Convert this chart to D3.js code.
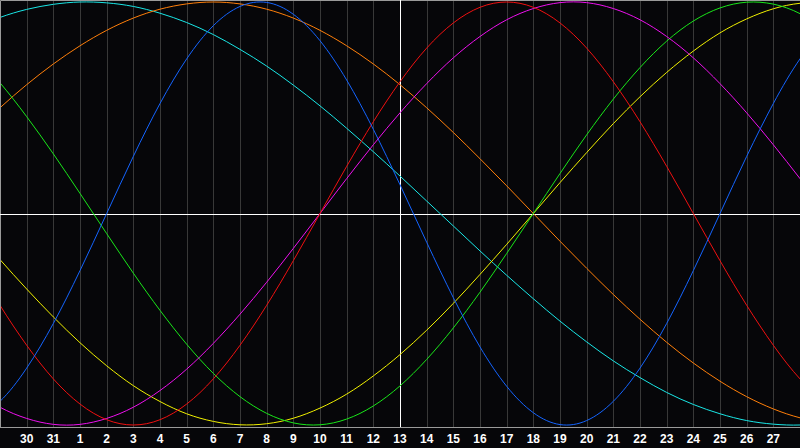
<!DOCTYPE html>
<html>
<head>
  <title>Biorhythm</title>
  <style>
    body {
      background-color: #000;
      margin: 0;
      padding: 0;
      overflow: hidden;
    }
    svg text {
      font-family: "Liberation Sans", Arial, sans-serif;
      font-weight: bold;
      font-size: 12px;
      fill: #fff;
    }
  </style>
</head>
<body>
  <div id="chart-container"></div>

  <script src="https://d3js.org/d3.v7.min.js"></script>
  <script>
    // day index -1 .. 31 (index 0 = left edge, 30 = right edge)
    const days = d3.range(-1, 32);

    // labels under the grid lines, index 1 .. 29
    const tickLabels = ['30', '31', '1', '2', '3', '4', '5', '6', '7', '8', '9', '10', '11', '12',
      '13', '14', '15', '16', '17', '18', '19', '20', '21', '22', '23', '24', '25', '26', '27'];

    // values, one per day (-1 .. 31)
    const physical = [-0.979, -0.888, -0.731, -0.520, -0.270, 0, 0.270, 0.520, 0.731, 0.888, 0.979, 0.998, 0.942, 0.817, 0.631, 0.398, 0.136,
      -0.136, -0.398, -0.631, -0.817, -0.942, -0.998, -0.979, -0.888, -0.731, -0.520, -0.270, 0, 0.270, 0.520, 0.731, 0.888];
    const emotional = [-0.223, -0.434, -0.623, -0.782, -0.901, -0.975, -1, -0.975, -0.901, -0.782, -0.623, -0.434, -0.223, 0, 0.223, 0.434, 0.623,
      0.782, 0.901, 0.975, 1, 0.975, 0.901, 0.782, 0.623, 0.434, 0.223, 0, -0.223, -0.434, -0.623, -0.782, -0.901];
    const intellectual = [0.756, 0.618, 0.458, 0.282, 0.095, -0.095, -0.282, -0.458, -0.618, -0.756, -0.866, -0.945, -0.990, -0.999, -0.972, -0.910, -0.815,
      -0.690, -0.541, -0.372, -0.189, 0, 0.189, 0.372, 0.541, 0.690, 0.815, 0.910, 0.972, 0.999, 0.990, 0.945, 0.866];
    const intuitive = [-0.837, -0.916, -0.969, -0.997, -0.997, -0.969, -0.916, -0.837, -0.736, -0.614, -0.476, -0.325, -0.165, 0, 0.165, 0.325, 0.476,
      0.614, 0.736, 0.837, 0.916, 0.969, 0.997, 0.997, 0.969, 0.916, 0.837, 0.736, 0.614, 0.476, 0.325, 0.165, 0];
    const aesthetic = [-0.073, -0.218, -0.357, -0.489, -0.611, -0.720, -0.814, -0.889, -0.947, -0.983, -0.999, -0.994, -0.968, -0.920, -0.854, -0.768, -0.667,
      -0.552, -0.425, -0.288, -0.146, 0, 0.146, 0.288, 0.425, 0.552, 0.667, 0.768, 0.854, 0.920, 0.968, 0.994, 0.999];
    const awareness = [0.383, 0.5, 0.609, 0.707, 0.793, 0.866, 0.924, 0.966, 0.991, 1, 0.991, 0.966, 0.924, 0.866, 0.793, 0.707, 0.609,
      0.5, 0.383, 0.259, 0.131, 0, -0.131, -0.259, -0.383, -0.5, -0.609, -0.707, -0.793, -0.866, -0.924, -0.966, -0.991];
    const spiritual = [0.876, 0.927, 0.965, 0.989, 1.000, 0.996, 0.979, 0.947, 0.903, 0.846, 0.776, 0.697, 0.607, 0.509, 0.403, 0.292, 0.177,
      0.059, -0.059, -0.177, -0.292, -0.403, -0.509, -0.607, -0.697, -0.776, -0.846, -0.903, -0.947, -0.979, -0.996, -1.000, -0.989];

    const series = [
      { name: 'spiritual', values: spiritual, color: '#19e6e6' },
      { name: 'awareness', values: awareness, color: '#ff7f0a' },
      { name: 'aesthetic', values: aesthetic, color: '#f0f000' },
      { name: 'intellectual', values: intellectual, color: '#19e619' },
      { name: 'intuitive', values: intuitive, color: '#ee10ee' },
      { name: 'emotional', values: emotional, color: '#f01010' },
      { name: 'physical', values: physical, color: '#1464ff' }
    ];

    const width = 800, height = 448;
    const plotBottom = 427;

    const svg = d3.select('#chart-container').append('svg')
      .attr('width', width)
      .attr('height', height)
      .style('display', 'block')
      .style('background', '#060609');

    const x = d3.scaleLinear().domain([0, 30]).range([0, 800]);
    const y = d3.scaleLinear().domain([-1, 1]).range([425, 2]);

    const crisp = v => Math.round(v) + 0.5;

    // vertical grid
    svg.selectAll('.grid')
      .data(d3.range(1, 30))
      .enter()
      .append('line')
      .attr('class', 'grid')
      .attr('x1', d => crisp(x(d)))
      .attr('x2', d => crisp(x(d)))
      .attr('y1', 0)
      .attr('y2', plotBottom)
      .style('stroke', '#383838')
      .style('stroke-width', 1);

    // frame: top, left, bottom
    svg.append('path')
      .attr('d', `M0.5,${plotBottom + 0.5}V0.5H800M0,${plotBottom + 0.5}H800`)
      .style('fill', 'none')
      .style('stroke', '#9a9a9a');

    // centre cross
    svg.append('line')
      .attr('x1', crisp(x(15))).attr('x2', crisp(x(15)))
      .attr('y1', 0).attr('y2', plotBottom)
      .style('stroke', '#fff');
    svg.append('line')
      .attr('x1', 0).attr('x2', 800)
      .attr('y1', crisp(y(0))).attr('y2', crisp(y(0)))
      .style('stroke', '#fff');

    svg.append('clipPath').attr('id', 'plot-clip')
      .append('rect').attr('x', 1).attr('y', 1).attr('width', 799).attr('height', plotBottom - 1);

    const line = d3.line()
      .x((d, i) => x(days[i]))
      .y(d => y(d))
      .curve(d3.curveNatural);

    svg.append('g')
      .attr('clip-path', 'url(#plot-clip)')
      .selectAll('.wave')
      .data(series)
      .enter()
      .append('path')
      .attr('class', 'wave')
      .attr('d', d => line(d.values))
      .style('fill', 'none')
      .style('stroke', d => d.color)
      .style('stroke-width', 1);

    // day labels
    svg.selectAll('.day')
      .data(tickLabels)
      .enter()
      .append('text')
      .attr('class', 'day')
      .attr('x', (d, i) => x(i + 1))
      .attr('y', 443)
      .attr('text-anchor', 'middle')
      .text(d => d);
  </script>
</body>
</html>
